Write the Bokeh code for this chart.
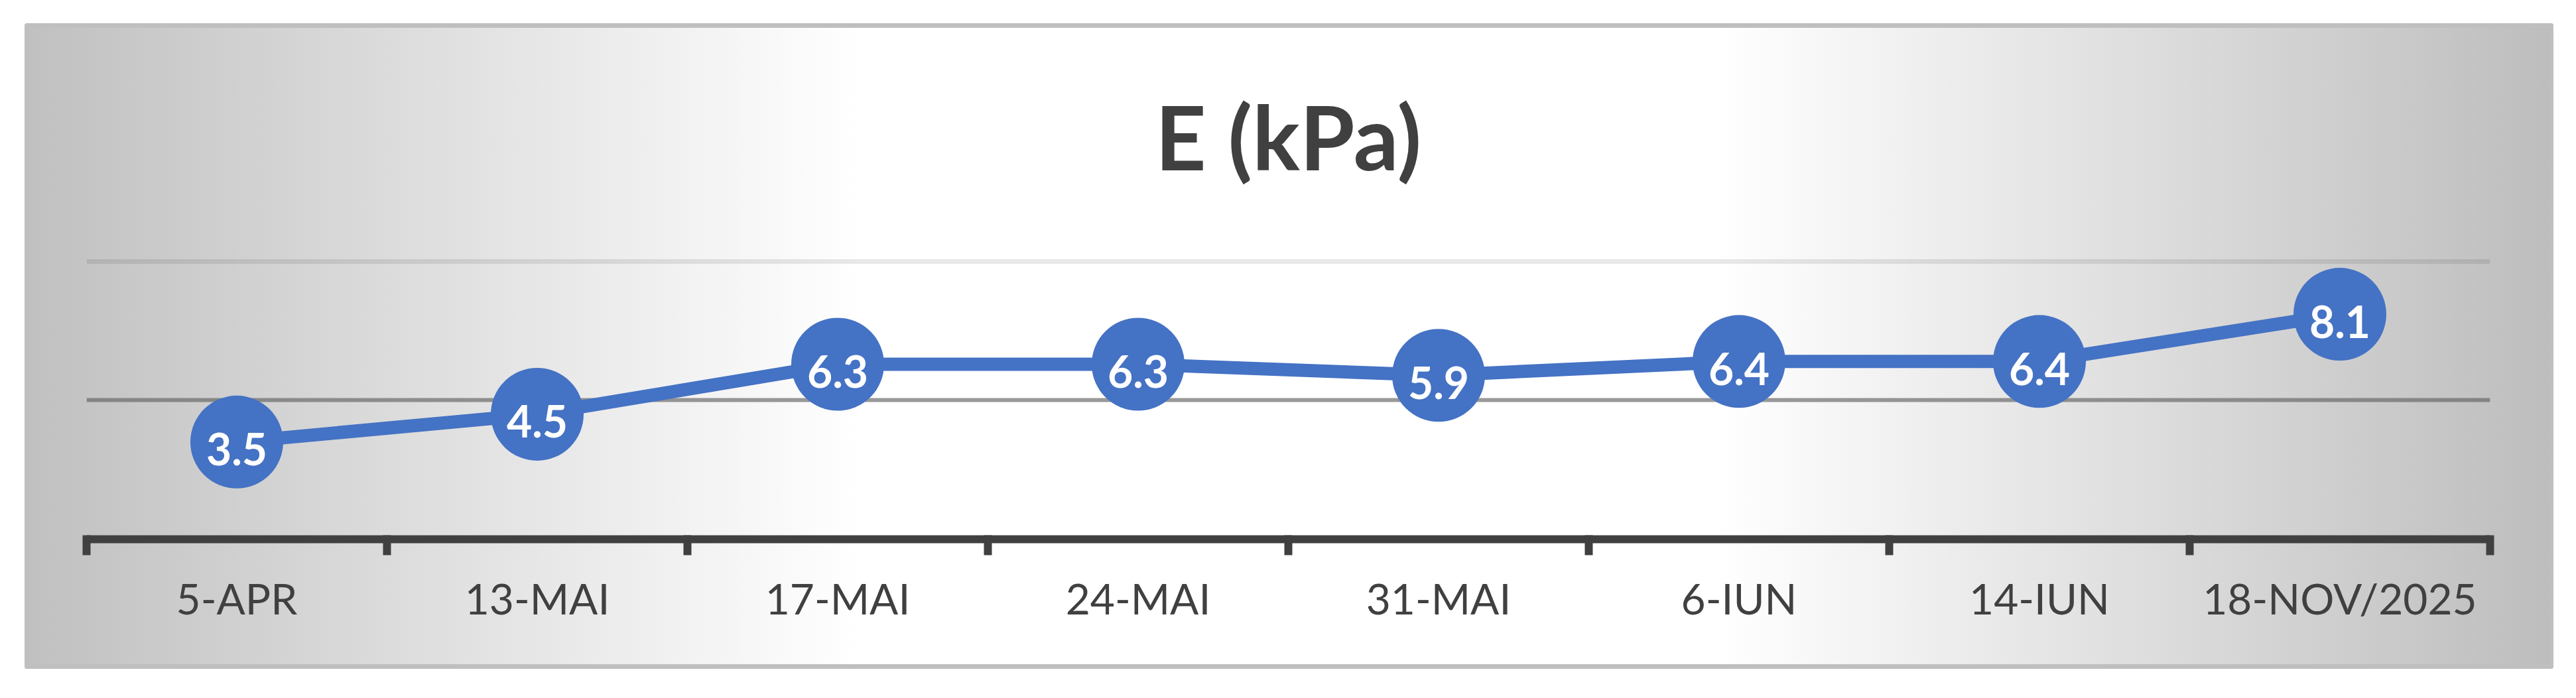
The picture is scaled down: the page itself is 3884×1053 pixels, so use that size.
from bokeh.plotting import figure
from bokeh.models import Range1d, FixedTicker, Grid
from bokeh.core.properties import value
from bokeh.embed import file_html
from bokeh.resources import INLINE

# ---- data ----
categories = ["5-APR", "13-MAI", "17-MAI", "24-MAI", "31-MAI", "6-IUN", "14-IUN", "18-NOV/2025"]
e_values = [3.5, 4.5, 6.3, 6.3, 5.9, 6.4, 6.4, 8.1]
title_text = "E (kPa)"
grid_dark = [5]
grid_light = [10]

n = len(categories)
xs = list(range(n))
labels = [f"{v:.1f}" for v in e_values]

BLUE = "#4472C4"
DARK = "#404040"

p = figure(
    width=3813, height=974,
    x_range=Range1d(-0.5, n - 0.5), y_range=Range1d(0, 10.5),
    output_backend="svg", toolbar_location=None,
    y_axis_location=None,
    min_border_left=93, min_border_right=96, min_border_top=333, min_border_bottom=196,
)
p.margin = (35, 0, 0, 37)
p.styles = {
    "background": "linear-gradient(90deg, #c0c0c0 0%, #ffffff 33%, #ffffff 67%, #bdbdbd 100%)",
    "box-shadow": "inset 0 0 0 7px #bfbfbf",
    "border-radius": "4px",
}
p.border_fill_alpha = 0
p.background_fill_alpha = 0
p.outline_line_color = None

# title
p.title.text = title_text
p.title.align = "center"
p.title.text_font = "Lato"
p.title.text_font_style = "bold"
p.title.text_font_size = "134px"
p.title.text_color = DARK
p.title.standoff = 175

# grids
p.xgrid.visible = False
p.ygrid.ticker = FixedTicker(ticks=grid_light)
p.ygrid.grid_line_color = "#000000"
p.ygrid.grid_line_alpha = 0.09
p.ygrid.grid_line_width = 7
g2 = Grid(dimension=1, ticker=FixedTicker(ticks=grid_dark),
          grid_line_color="#5f5f5f", grid_line_alpha=0.64, grid_line_width=6)
p.add_layout(g2)

# x axis
ax = p.xaxis[0]
ax.ticker = FixedTicker(ticks=xs, minor_ticks=[i - 0.5 for i in range(n + 1)])
ax.major_label_overrides = {i: c for i, c in enumerate(categories)}
ax.axis_line_color = DARK
ax.axis_line_width = 12
ax.major_tick_line_color = None
ax.major_tick_out = 0
ax.major_tick_in = 0
ax.minor_tick_line_color = DARK
ax.minor_tick_line_width = 12
ax.minor_tick_out = 24
ax.minor_tick_in = 6
ax.major_label_text_font = "Lato"
ax.major_label_text_font_size = "64px"
ax.major_label_text_color = DARK
ax.major_label_standoff = 26

# series
p.line(xs, e_values, line_color=BLUE, line_width=20)
p.scatter(xs, e_values, size=140, fill_color=BLUE, line_color=None)
p.text(xs, e_values, text=labels, text_font=value("Lato"), text_font_style="bold",
       text_font_size="66px", text_color="white", text_align="center",
       text_baseline="middle", y_offset=11)

open("out.html", "w").write(file_html(p, INLINE))
